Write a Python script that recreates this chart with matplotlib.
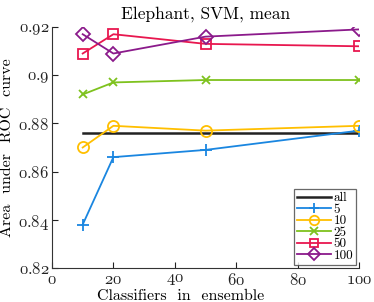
import matplotlib
matplotlib.use("Agg")
import matplotlib.pyplot as plt

plt.rcParams['font.family'] = ['cmr10']
plt.rcParams['mathtext.fontset'] = 'custom'
plt.rcParams['mathtext.rm'] = 'cmmi10'
plt.rcParams['mathtext.it'] = 'cmmi10'

x = [10, 20, 50, 100]
all_vals = [0.876, 0.876, 0.876, 0.876]
s5 = [0.838, 0.866, 0.869, 0.877]
s10 = [0.870, 0.879, 0.877, 0.879]
s25 = [0.892, 0.897, 0.898, 0.898]
s50 = [0.909, 0.917, 0.913, 0.912]
s100 = [0.917, 0.909, 0.916, 0.919]

xticks = [0, 20, 40, 60, 80, 100]
yticks = [0.82, 0.84, 0.86, 0.88, 0.9, 0.92]
ytick_labels = ['0.82', '0.84', '0.86', '0.88', '0.9', '0.92']

labels = ['all', '5', '10', '25', '50', '100']
colors = ['#222222', '#1a86e0', '#ffbf00', '#7ec21e', '#e8174f', '#8b1a8b']
markers = [None, '+', 'o', 'x', 's', 'D']
msizes = [0, 9, 8, 6, 7, 7]


def oldstyle(s):
    # digits in Computer Modern math italic (old-style figures), period in cmr10
    parts = s.split('.')
    return '.'.join(r'$\mathrm{%s}$' % p for p in parts)


fig = plt.figure(figsize=(3.74, 3.02), dpi=100)
ax = fig.add_axes([0.139, 0.1126, 0.821, 0.798])

series = [all_vals, s5, s10, s25, s50, s100]
for vals, lab, c, m, ms in zip(series, labels, colors, markers, msizes):
    if m is None:
        ax.plot(x, vals, color=c, lw=1.8, label=lab)
    else:
        ax.plot(x, vals, color=c, lw=1.3, marker=m, ms=ms, mfc='none',
                mew=1.3, label=lab)

ax.set_xlim(0, 100)
ax.set_ylim(0.82, 0.92)
ax.set_xticks(xticks)
ax.set_xticklabels([oldstyle(str(t)) for t in xticks])
ax.set_yticks(yticks)
ax.set_yticklabels([oldstyle(t) for t in ytick_labels])
for s in ['top', 'right']:
    ax.spines[s].set_visible(False)
for s in ['left', 'bottom']:
    ax.spines[s].set_color('#333333')
ax.tick_params(direction='in', length=4, labelsize=12, colors='#222222')
ax.tick_params(axis='x', pad=3)
ax.tick_params(axis='y', pad=2)
ax.set_title('Elephant, SVM, mean', fontsize=12.5, pad=6)
ax.set_xlabel('Classifiers  in  ensemble', fontsize=11.5)
ax.xaxis.set_label_coords(0.42, -0.088, transform=ax.transAxes)
ax.xaxis.label.set_va('top')
ax.set_ylabel('Area  under  ROC  curve', fontsize=11.5, labelpad=3)

leg = ax.legend(loc='lower right', fontsize=9.5, frameon=True, fancybox=False,
                edgecolor='#444444', handlelength=2.6, handletextpad=0.2,
                labelspacing=-0.05, borderpad=0.2, borderaxespad=0.25,
                markerscale=0.85)
leg.get_frame().set_linewidth(0.9)

fig.savefig('out.png', dpi=100)
